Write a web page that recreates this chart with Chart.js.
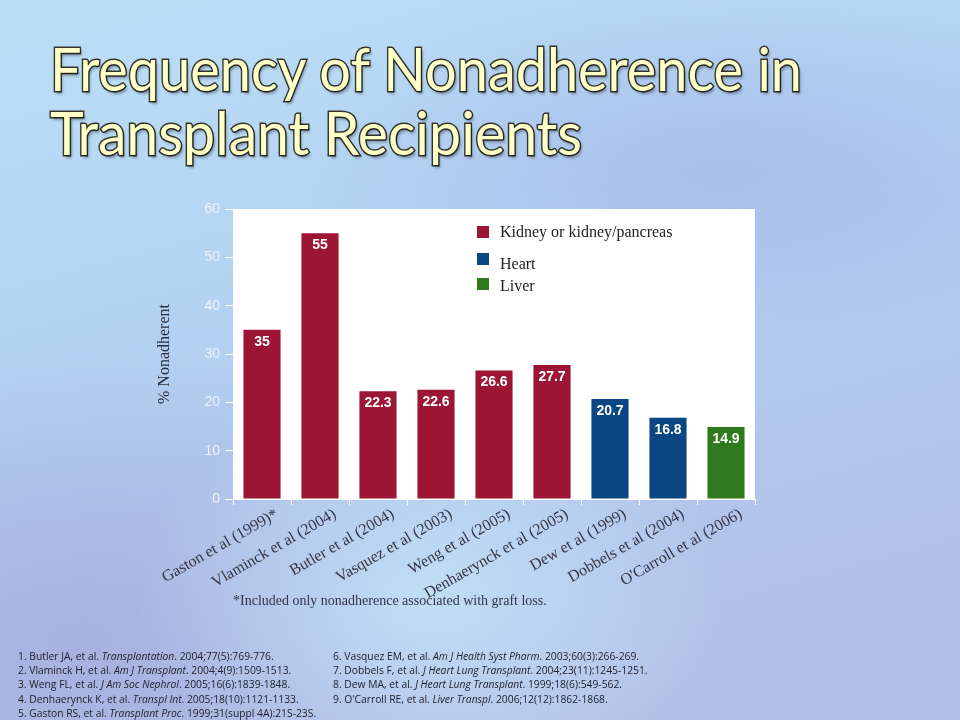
<!DOCTYPE html>
<html>
<head>
<meta charset="utf-8">
<script src="https://cdn.jsdelivr.net/npm/chart.js@4.4.0/dist/chart.umd.min.js"></script>
<style>
  html, body { margin: 0; padding: 0; }
  body {
    width: 960px; height: 720px; overflow: hidden; position: relative;
    background:
      radial-gradient(ellipse 420px 300px at 430px 600px, rgba(200,232,250,0.75), rgba(200,232,250,0) 70%),
      radial-gradient(ellipse 700px 420px at 80px 640px, rgba(160,160,215,0.55), rgba(160,160,215,0) 70%),
      radial-gradient(ellipse 600px 260px at 720px 170px, rgba(160,175,230,0.55), rgba(160,175,230,0) 70%),
      linear-gradient(165deg, #bcdff7 0%, #b3d3f3 35%, #b2c6ec 65%, #b3bde6 100%);
    font-family: "Open Sans", sans-serif;
  }
  #chart { position: absolute; left: 0; top: 0; }
  .title {
    position: absolute; left: 50px; margin: 0;
    font-family: Lato, "Open Sans", sans-serif; font-weight: 400;
    font-size: 60px; line-height: 1; white-space: nowrap;
    color: #ffffc8;
    -webkit-text-stroke: 3px #34342c; paint-order: stroke fill;
    text-shadow: 2px 3px 3px rgba(0,0,0,0.35);
    transform-origin: left top; display: inline-block;
  }
  #t1 { top: 38px; }
  #t2 { top: 102px; }
  #note {
    position: absolute; left: 233px; top: 593px;
    font-family: "Liberation Serif", serif; font-size: 14px; color: #33334a;
  }
  .refs {
    position: absolute; top: 649px; font-size: 10.3px; line-height: 14.2px; color: #22222e;
    white-space: nowrap;
  }
  #refsL { left: 18px; }
  #refsR { left: 333px; }
</style>
</head>
<body>
<canvas id="chart" width="960" height="720"></canvas>
<div class="title" id="t1">Frequency of Nonadherence in</div>
<div class="title" id="t2">Transplant Recipients</div>
<div id="note">*Included only nonadherence associated with graft loss.</div>
<div class="refs" id="refsL">
  1. Butler JA, et al. <i>Transplantation</i>. 2004;77(5):769-776.<br>
  2. Vlaminck H, et al. <i>Am J Transplant</i>. 2004;4(9):1509-1513.<br>
  3. Weng FL, et al. <i>J Am Soc Nephrol</i>. 2005;16(6):1839-1848.<br>
  4. Denhaerynck K, et al. <i>Transpl Int</i>. 2005;18(10):1121-1133.<br>
  5. Gaston RS, et al. <i>Transplant Proc</i>. 1999;31(suppl 4A):21S-23S.
</div>
<div class="refs" id="refsR">
  6. Vasquez EM, et al. <i>Am J Health Syst Pharm</i>. 2003;60(3):266-269.<br>
  7. Dobbels F, et al. <i>J Heart Lung Transplant</i>. 2004;23(11):1245-1251.<br>
  8. Dew MA, et al. <i>J Heart Lung Transplant</i>. 1999;18(6):549-562.<br>
  9. O'Carroll RE, et al. <i>Liver Transpl</i>. 2006;12(12):1862-1868.
</div>
<script>
const studies = [
  "Gaston et al (1999)*", "Vlaminck et al (2004)", "Butler et al (2004)",
  "Vasquez et al (2003)", "Weng et al (2005)", "Denhaerynck et al (2005)",
  "Dew et al (1999)", "Dobbels et al (2004)", "O'Carroll et al (2006)"
];
const pctNonadherent = [35, 55, 22.3, 22.6, 26.6, 27.7, 20.7, 16.8, 14.9];
const organOf = [0, 0, 0, 0, 0, 0, 1, 1, 2];
const organNames = ["Kidney or kidney/pancreas", "Heart", "Liver"];
const organColors = ["#9c1535", "#0a4682", "#2f7a1c"];
const yTicks = [0, 10, 20, 30, 40, 50, 60];

// fit the title lines to the slide width
function fitTitle(id, target) {
  const el = document.getElementById(id);
  const w = el.getBoundingClientRect().width;
  el.style.transform = `scaleX(${target / w})`;
}
fitTitle("t1", 752);
fitTitle("t2", 532);

const plotBg = {
  id: "plotBg",
  beforeDraw(chart) {
    const { ctx, chartArea: a } = chart;
    ctx.save();
    ctx.fillStyle = "#ffffff";
    ctx.fillRect(a.left, a.top, a.right - a.left, a.bottom - a.top);
    ctx.restore();
  }
};

const barValues = {
  id: "barValues",
  afterDatasetsDraw(chart) {
    const { ctx } = chart;
    const meta = chart.getDatasetMeta(0);
    ctx.save();
    ctx.fillStyle = "#ffffff";
    ctx.font = "bold 14px 'Liberation Sans', Arial, sans-serif";
    ctx.textAlign = "center";
    ctx.textBaseline = "middle";
    meta.data.forEach((bar, i) => {
      ctx.fillText(String(pctNonadherent[i]), bar.x, bar.y + 12);
    });
    ctx.restore();
  }
};

const organLegend = {
  id: "organLegend",
  afterDraw(chart) {
    const { ctx, chartArea: a } = chart;
    const x = a.left + 244;
    const rows = [{ sq: 17, base: 28 }, { sq: 44, base: 60 }, { sq: 69, base: 82 }];
    ctx.save();
    ctx.font = "16px 'Liberation Serif', serif";
    ctx.textBaseline = "alphabetic";
    organNames.forEach((name, i) => {
      ctx.fillStyle = organColors[i];
      ctx.fillRect(x, a.top + rows[i].sq, 12, 12);
      ctx.fillStyle = "#222222";
      ctx.fillText(name, x + 23, a.top + rows[i].base);
    });
    ctx.restore();
  }
};

new Chart(document.getElementById("chart"), {
  type: "bar",
  data: {
    labels: studies,
    datasets: [{
      label: "% Nonadherent",
      data: pctNonadherent,
      backgroundColor: organOf.map(o => organColors[o]),
      categoryPercentage: 0.8,
      barPercentage: 0.8
    }]
  },
  options: {
    responsive: false,
    animation: false,
    layout: { padding: { left: 155, right: 205, top: 209, bottom: 111 } },
    plugins: { legend: { display: false }, tooltip: { enabled: false } },
    scales: {
      y: {
        min: 0, max: 60,
        afterFit: (s) => { s.width = 78; },
        afterBuildTicks: (s) => { s.ticks = yTicks.map(v => ({ value: v })); },
        grid: { drawOnChartArea: false, tickLength: 8, color: "#ffffff" },
        border: { color: "#ffffff" },
        ticks: { color: "#eef2fa", font: { family: "'Liberation Sans', Arial", size: 14 }, padding: 5 },
        title: {
          display: true, text: "% Nonadherent", color: "#2e2e3a",
          font: { family: "'Liberation Serif', serif", size: 16 }, padding: 0
        }
      },
      x: {
        afterFit: (s) => { s.height = 110; },
        grid: { offset: true, drawOnChartArea: false, tickLength: 6, color: "#ffffff" },
        border: { color: "#ffffff" },
        ticks: {
          minRotation: 30, maxRotation: 30, labelOffset: 15, padding: 0,
          color: "#353545", font: { family: "'Liberation Serif', serif", size: 16 }
        }
      }
    }
  },
  plugins: [plotBg, barValues, organLegend]
});
</script>
</body>
</html>
